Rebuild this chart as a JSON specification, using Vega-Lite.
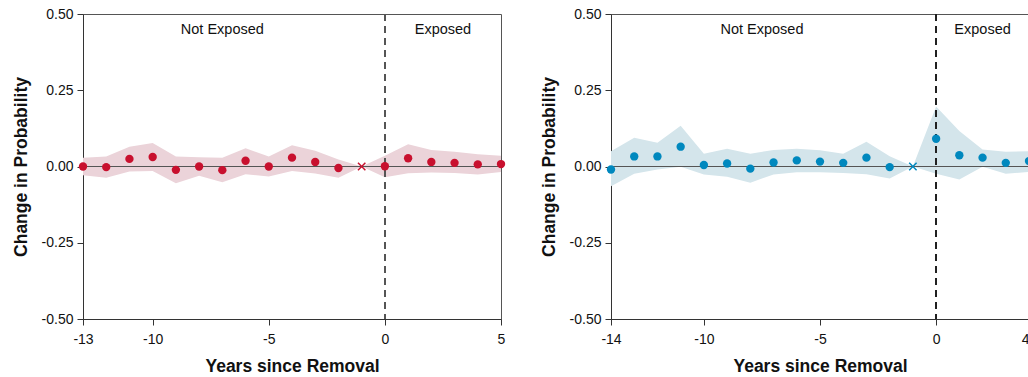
{
  "$schema": "https://vega.github.io/schema/vega-lite/v6.json",
  "padding": {"left": 11, "top": 6, "right": 0, "bottom": 0},
  "background": "white",
  "config": {
    "font": "Liberation Sans",
    "view": {"stroke": "#555", "strokeWidth": 1},
    "axis": {
      "grid": false,
      "domainColor": "#333",
      "tickColor": "#333",
      "tickSize": 6,
      "labelFontSize": 14,
      "labelColor": "#111",
      "titleFontSize": 17.5,
      "titleFontWeight": "bold",
      "titleColor": "#111",
      "labelFlush": false,
      "labelExpr": "replace(datum.label, '\u2212', '-')"
    },
    "axisY": {"labelPadding": 4, "titlePadding": 11},
    "axisX": {"labelPadding": 7, "titlePadding": 11}
  },
  "spacing": 33,
  "datasets": {
    "left": [
      {"t": -13, "est": 0.0, "lo": -0.029, "hi": 0.029, "ref": false},
      {"t": -12, "est": -0.002, "lo": -0.037, "hi": 0.033, "ref": false},
      {"t": -11, "est": 0.025, "lo": -0.016, "hi": 0.065, "ref": false},
      {"t": -10, "est": 0.031, "lo": -0.015, "hi": 0.077, "ref": false},
      {"t": -9, "est": -0.011, "lo": -0.055, "hi": 0.033, "ref": false},
      {"t": -8, "est": 0.0, "lo": -0.03, "hi": 0.03, "ref": false},
      {"t": -7, "est": -0.012, "lo": -0.052, "hi": 0.029, "ref": false},
      {"t": -6, "est": 0.019, "lo": -0.025, "hi": 0.06, "ref": false},
      {"t": -5, "est": 0.0, "lo": -0.033, "hi": 0.033, "ref": false},
      {"t": -4, "est": 0.029, "lo": -0.015, "hi": 0.07, "ref": false},
      {"t": -3, "est": 0.015, "lo": -0.023, "hi": 0.052, "ref": false},
      {"t": -2, "est": -0.005, "lo": -0.037, "hi": 0.023, "ref": false},
      {"t": -1, "est": 0.0, "lo": 0.0, "hi": 0.0, "ref": true},
      {"t": 0, "est": 0.001, "lo": -0.035, "hi": 0.035, "ref": false},
      {"t": 1, "est": 0.027, "lo": -0.022, "hi": 0.073, "ref": false},
      {"t": 2, "est": 0.015, "lo": -0.02, "hi": 0.054, "ref": false},
      {"t": 3, "est": 0.012, "lo": -0.021, "hi": 0.048, "ref": false},
      {"t": 4, "est": 0.007, "lo": -0.026, "hi": 0.04, "ref": false},
      {"t": 5, "est": 0.008, "lo": -0.018, "hi": 0.035, "ref": false}
    ],
    "right": [
      {"t": -14, "est": -0.01, "lo": -0.065, "hi": 0.05, "ref": false},
      {"t": -13, "est": 0.033, "lo": -0.024, "hi": 0.094, "ref": false},
      {"t": -12, "est": 0.033, "lo": -0.01, "hi": 0.078, "ref": false},
      {"t": -11, "est": 0.065, "lo": -0.001, "hi": 0.134, "ref": false},
      {"t": -10, "est": 0.005, "lo": -0.026, "hi": 0.042, "ref": false},
      {"t": -9, "est": 0.01, "lo": -0.034, "hi": 0.058, "ref": false},
      {"t": -8, "est": -0.007, "lo": -0.053, "hi": 0.042, "ref": false},
      {"t": -7, "est": 0.013, "lo": -0.026, "hi": 0.054, "ref": false},
      {"t": -6, "est": 0.02, "lo": -0.019, "hi": 0.058, "ref": false},
      {"t": -5, "est": 0.016, "lo": -0.019, "hi": 0.053, "ref": false},
      {"t": -4, "est": 0.012, "lo": -0.021, "hi": 0.042, "ref": false},
      {"t": -3, "est": 0.029, "lo": -0.025, "hi": 0.081, "ref": false},
      {"t": -2, "est": -0.002, "lo": -0.039, "hi": 0.034, "ref": false},
      {"t": -1, "est": 0.0, "lo": 0.0, "hi": 0.0, "ref": true},
      {"t": 0, "est": 0.091, "lo": -0.024, "hi": 0.197, "ref": false},
      {"t": 1, "est": 0.037, "lo": -0.043, "hi": 0.116, "ref": false},
      {"t": 2, "est": 0.029, "lo": -0.001, "hi": 0.056, "ref": false},
      {"t": 3, "est": 0.012, "lo": -0.024, "hi": 0.048, "ref": false},
      {"t": 4, "est": 0.018, "lo": -0.018, "hi": 0.05, "ref": false}
    ],
    "labelsL": [
      {"t": -7.0, "y": 0.449, "txt": "Not Exposed"},
      {"t": 2.5, "y": 0.449, "txt": "Exposed"}
    ],
    "labelsR": [
      {"t": -7.5, "y": 0.449, "txt": "Not Exposed"},
      {"t": 2.0, "y": 0.449, "txt": "Exposed"}
    ]
  },
  "hconcat": [
    {
      "width": 418,
      "height": 305,
      "data": {"name": "left"},
      "encoding": {
        "x": {"field": "t", "type": "quantitative", "scale": {"domain": [-13, 5], "nice": false, "zero": false}, "axis": {"values": [-13, -10, -5, 0, 5], "title": "Years since Removal"}},
        "y": {"type": "quantitative", "scale": {"domain": [-0.5, 0.5], "nice": false}, "axis": {"values": [-0.5, -0.25, 0, 0.25, 0.5], "format": ".2f", "title": "Change in Probability"}}
      },
      "layer": [
        {"mark": {"type": "area", "color": "#ebd3d9"}, "encoding": {"y": {"field": "lo"}, "y2": {"field": "hi"}}},
        {"mark": {"type": "rule", "color": "#555", "strokeWidth": 1.2}, "encoding": {"x": null, "y": {"datum": 0}}},
        {"mark": {"type": "rule", "color": "#555", "strokeWidth": 1, "strokeDash": [7, 5]}, "encoding": {"x": {"datum": 0}, "y": null}},
        {"transform": [{"filter": "!datum.ref"}], "mark": {"type": "point", "filled": true, "opacity": 1, "size": 70, "color": "#c8102e"}, "encoding": {"y": {"field": "est"}}},
        {"transform": [{"filter": "datum.ref"}], "mark": {"type": "point", "shape": "M-1,-1L1,1M-1,1L1,-1", "filled": false, "opacity": 1, "size": 55, "strokeWidth": 1.5, "color": "#c8102e"}, "encoding": {"y": {"field": "est"}}},
        {"data": {"name": "labelsL"}, "mark": {"type": "text", "fontSize": 14.5, "color": "#111"}, "encoding": {"y": {"field": "y"}, "text": {"field": "txt"}}}
      ]
    },
    {
      "width": 418,
      "height": 305,
      "data": {"name": "right"},
      "encoding": {
        "x": {"field": "t", "type": "quantitative", "scale": {"domain": [-14, 4], "nice": false, "zero": false}, "axis": {"values": [-14, -10, -5, 0, 4], "title": "Years since Removal", "labelAlign": {"condition": {"test": "datum.value == 4", "value": "right"}, "value": "center"}}},
        "y": {"type": "quantitative", "scale": {"domain": [-0.5, 0.5], "nice": false}, "axis": {"values": [-0.5, -0.25, 0, 0.25, 0.5], "format": ".2f", "title": "Change in Probability"}}
      },
      "layer": [
        {"mark": {"type": "area", "color": "#d4e5eb"}, "encoding": {"y": {"field": "lo"}, "y2": {"field": "hi"}}},
        {"mark": {"type": "rule", "color": "#555", "strokeWidth": 1.2}, "encoding": {"x": null, "y": {"datum": 0}}},
        {"mark": {"type": "rule", "color": "#222", "strokeWidth": 1, "strokeDash": [7, 5]}, "encoding": {"x": {"datum": 0}, "y": null}},
        {"transform": [{"filter": "!datum.ref"}], "mark": {"type": "point", "filled": true, "opacity": 1, "size": 70, "color": "#0088be"}, "encoding": {"y": {"field": "est"}}},
        {"transform": [{"filter": "datum.ref"}], "mark": {"type": "point", "shape": "M-1,-1L1,1M-1,1L1,-1", "filled": false, "opacity": 1, "size": 55, "strokeWidth": 1.5, "color": "#0088be"}, "encoding": {"y": {"field": "est"}}},
        {"data": {"name": "labelsR"}, "mark": {"type": "text", "fontSize": 14.5, "color": "#111"}, "encoding": {"y": {"field": "y"}, "text": {"field": "txt"}}}
      ]
    }
  ]
}
